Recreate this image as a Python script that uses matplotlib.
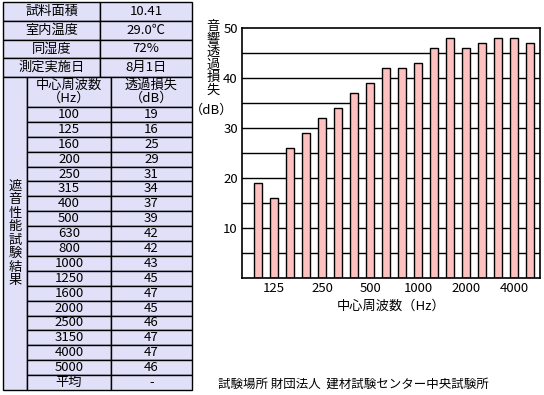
import matplotlib
matplotlib.use("Agg")
import matplotlib.pyplot as plt
from matplotlib.patches import Rectangle

plt.rcParams['font.family'] = ['Noto Sans CJK JP', 'DejaVu Sans']

# ---- data ----
info_labels = ['試料面積', '室内温度', '同湿度', '測定実施日']
info_values = ['10.41', '29.0℃', '72%', '8月1日']
freq_labels = ['100', '125', '160', '200', '250', '315', '400', '500', '630',
               '800', '1000', '1250', '1600', '2000', '2500', '3150', '4000', '5000']
table_db = ['19', '16', '25', '29', '31', '34', '37', '39', '42',
            '42', '43', '45', '47', '45', '46', '47', '47', '46']
chart_db = [19, 16, 26, 29, 32, 34, 37, 39, 42, 42, 43, 46, 48, 46, 47, 48, 48, 47]
xtick_labels = ['125', '250', '500', '1000', '2000', '4000']
yticks = [10, 20, 30, 40, 50]

W, H = 544, 395
fig = plt.figure(figsize=(W / 100, H / 100), dpi=100)
fig.patch.set_facecolor('white')

# ---- table (in pixel coords) ----
bg = fig.add_axes([0, 0, 1, 1])
bg.set_xlim(0, W)
bg.set_ylim(H, 0)
bg.axis('off')

cell_bg = '#E0E0F8'
lw = 1.0
fs = 9.5
x0, x1 = 3, 192
xm_top = 100
xl, xm = 27, 111
info_top, info_h = 2, 18.75
head_top = info_top + 4 * info_h
head_bot = 107
bottom = 390
n_rows = len(freq_labels) + 1
row_h = (bottom - head_bot) / n_rows

def cell(xa, ya, xb, yb):
    bg.add_patch(Rectangle((xa, ya), xb - xa, yb - ya, facecolor=cell_bg,
                           edgecolor='black', linewidth=lw))

for i, (lab, val) in enumerate(zip(info_labels, info_values)):
    ya = info_top + i * info_h
    yb = ya + info_h
    cell(x0, ya, xm_top, yb)
    cell(xm_top, ya, x1, yb)
    bg.text((x0 + xm_top) / 2, (ya + yb) / 2, lab, ha='center', va='center', fontsize=fs)
    bg.text((xm_top + x1) / 2, (ya + yb) / 2, val, ha='center', va='center', fontsize=fs)

cell(x0, head_top, xl, bottom)
bg.text((x0 + xl) / 2, (head_top + bottom) / 2, '\n'.join('遮音性能試験結果'),
        ha='center', va='center', fontsize=fs, linespacing=1.05)
cell(xl, head_top, xm, head_bot)
cell(xm, head_top, x1, head_bot)
bg.text((xl + xm) / 2, (head_top + head_bot) / 2, '中心周波数\n（Hz）',
        ha='center', va='center', fontsize=fs, linespacing=1.0)
bg.text((xm + x1) / 2, (head_top + head_bot) / 2, '透過損失\n（dB）',
        ha='center', va='center', fontsize=fs, linespacing=1.0)

rows_f = freq_labels + ['平均']
rows_d = table_db + ['-']
for i, (f, d) in enumerate(zip(rows_f, rows_d)):
    ya = head_bot + i * row_h
    yb = ya + row_h
    cell(xl, ya, xm, yb)
    cell(xm, ya, x1, yb)
    bg.text((xl + xm) / 2, (ya + yb) / 2, f, ha='center', va='center', fontsize=fs)
    bg.text((xm + x1) / 2, (ya + yb) / 2, d, ha='center', va='center', fontsize=fs)

# y label and footer
bg.text(213, 20, '\n'.join('音響透過損失'), ha='center', va='top', fontsize=fs,
        linespacing=0.98)
bg.text(212, 110, '（dB）', ha='center', va='center', fontsize=fs)
bg.text(218, 384, '試験場所 財団法人  建材試験センター中央試験所',
        ha='left', va='center', fontsize=9)

# ---- chart ----
axl, axt, axr, axb = 242, 28, 540, 278
ax = fig.add_axes([axl / W, (H - axb) / H, (axr - axl) / W, (axb - axt) / H])
ax.set_facecolor('white')
xs = list(range(len(chart_db)))
ax.set_axisbelow(True)
for v in range(5, 50, 5):
    ax.axhline(v, color='black', linewidth=1.0, zorder=0)
ax.bar(xs, chart_db, width=0.5, color='#FFC0C0', edgecolor='black', linewidth=1.0, zorder=2)
ax.set_xlim(-1.02, len(chart_db) - 1 + 0.63)
ax.set_ylim(0, 50)
ax.set_yticks(yticks)
ax.set_yticklabels([str(v) for v in yticks], fontsize=fs)
tick_pos = [freq_labels.index(t) for t in xtick_labels]
ax.set_xticks(tick_pos)
ax.set_xticklabels(xtick_labels, fontsize=fs)
ax.tick_params(length=0, pad=3)
for s in ax.spines.values():
    s.set_linewidth(1.2)
    s.set_color('black')
ax.set_xlabel('中心周波数（Hz）', fontsize=fs, labelpad=3)

fig.savefig('out.png', dpi=100, facecolor='white')
